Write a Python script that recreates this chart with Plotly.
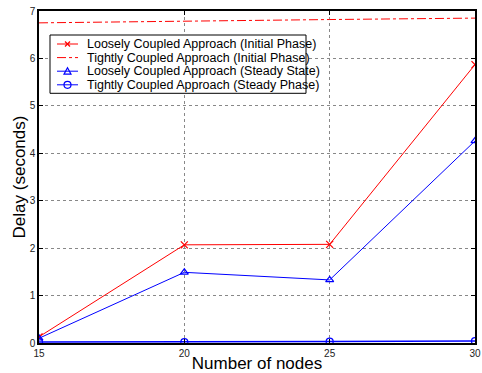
import plotly.graph_objects as go

# Network sizes and measured delays (seconds)
nodes = [15, 20, 25, 30]
loose_initial = [0.13, 2.07, 2.08, 5.87]
tight_initial = [6.75, 6.79, 6.82, 6.85]
loose_steady = [0.10, 1.49, 1.33, 4.26]
tight_steady = [0.02, 0.02, 0.03, 0.04]

x_ticks = [15, 20, 25, 30]
y_ticks = [0, 1, 2, 3, 4, 5, 6, 7]

RED = "#ff0000"
BLUE = "#0000ff"
FONT = "Liberation Sans, Arial, sans-serif"

series = [
    dict(name="Loosely Coupled Approach (Initial Phase)", y=loose_initial,
         color=RED, dash="solid", width=1, symbol="x-thin"),
    dict(name="Tightly Coupled Approach (Initial Phase)", y=tight_initial,
         color=RED, dash="dashdot", width=1, symbol=None),
    dict(name="Loosely Coupled Approach (Steady State)", y=loose_steady,
         color=BLUE, dash="solid", width=1, symbol="triangle-up-open"),
    dict(name="Tightly Coupled Approach (Steady Phase)", y=tight_steady,
         color=BLUE, dash="solid", width=1.5, symbol="circle-open"),
]

fig = go.Figure()
for s in series:
    fig.add_trace(go.Scatter(
        x=nodes, y=s["y"], name=s["name"],
        mode="lines+markers" if s["symbol"] else "lines",
        line=dict(color=s["color"], width=s["width"], dash=s["dash"]),
        marker=dict(symbol=s["symbol"] or "circle", size=7, color=s["color"],
                    line=dict(color=s["color"], width=1.2)),
        showlegend=False,
    ))

# Plot-area geometry (pixels) used to place the compact MATLAB-style legend box
W, H = 482, 373
ML, MR, MT, MB = 39, 7, 11, 30
PW, PH = W - ML - MR, H - MT - MB


def px(xpix):
    return (xpix - ML) / PW


def py(ypix):
    return (H - MB - ypix) / PH


shapes = []
annotations = []
row0, row_step = 44.0, 13.6
box_l, box_t, box_r = 50, 35, 306
box_b = row0 + 3 * row_step + 8.5
shapes.append(dict(type="rect", xref="paper", yref="paper",
                   x0=px(box_l), x1=px(box_r), y0=py(box_b), y1=py(box_t),
                   line=dict(color="black", width=1), fillcolor="white", layer="above"))
for i, s in enumerate(series):
    yc = row0 + i * row_step
    shapes.append(dict(type="line", xref="paper", yref="paper",
                       x0=px(57), x1=px(78), y0=py(yc), y1=py(yc),
                       line=dict(color=s["color"], width=1, dash=s["dash"]),
                       layer="above"))
    cx = 67.5
    if s["symbol"] == "x-thin":
        for d in (-2.5, 2.5):
            shapes.append(dict(type="line", xref="paper", yref="paper",
                               x0=px(cx - 2.5), x1=px(cx + 2.5),
                               y0=py(yc - d), y1=py(yc + d),
                               line=dict(color=s["color"], width=1.2), layer="above"))
    elif s["symbol"] == "triangle-up-open":
        path = "M {} {} L {} {} L {} {} Z".format(
            px(cx - 3.5), py(yc + 3), px(cx + 3.5), py(yc + 3), px(cx), py(yc - 3.5))
        shapes.append(dict(type="path", xref="paper", yref="paper", path=path,
                           line=dict(color=s["color"], width=1.2), layer="above"))
    elif s["symbol"] == "circle-open":
        shapes.append(dict(type="circle", xref="paper", yref="paper",
                           x0=px(cx - 3.5), x1=px(cx + 3.5),
                           y0=py(yc + 3.5), y1=py(yc - 3.5),
                           line=dict(color=s["color"], width=1.2), layer="above"))
    annotations.append(dict(xref="paper", yref="paper", x=px(86), y=py(yc),
                            xanchor="left", yanchor="middle", showarrow=False,
                            borderpad=0,
                            text=s["name"], font=dict(family=FONT, size=12.5, color="black")))

axis_common = dict(
    showline=True, linecolor="black", linewidth=1.5, mirror="ticks",
    ticks="inside", ticklen=4, tickcolor="black", tickwidth=1,
    showgrid=True, gridcolor="#888888", griddash="dot", gridwidth=1,
    zeroline=False, automargin=False, ticklabeloverflow="allow",
    tickfont=dict(family=FONT, size=10, color="#222222"),
)

fig.update_layout(
    width=W, height=H,
    margin=dict(l=ML, r=MR, t=MT, b=MB),
    paper_bgcolor="white", plot_bgcolor="white",
    font=dict(family=FONT, color="black"),
    shapes=shapes, annotations=annotations,
    xaxis=dict(
        range=[15, 30], tickvals=x_ticks, ticktext=[str(v) for v in x_ticks],
        title=dict(text="Number of nodes", font=dict(size=17), standoff=4),
        **axis_common,
    ),
    yaxis=dict(
        range=[0, 7], tickvals=y_ticks, ticktext=[str(v) for v in y_ticks],
        title=dict(text="Delay (seconds)", font=dict(size=17), standoff=0),
        **axis_common,
    ),
)

fig.write_html("out.html")
